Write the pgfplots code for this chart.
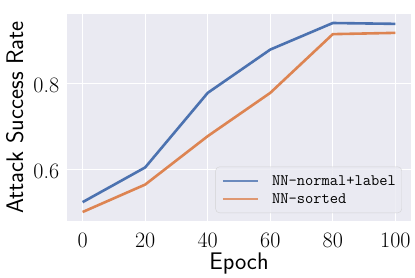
\documentclass[border=0pt]{standalone}
\usepackage{pgfplots}
\pgfplotsset{compat=1.18}
\definecolor{sbblue}{HTML}{4C72B0}
\definecolor{sborange}{HTML}{DD8452}
\definecolor{sbbg}{HTML}{EAEAF2}
\begin{document}
\begin{tikzpicture}
\path[use as bounding box] (-67pt,-56pt) rectangle (348pt,221pt);
\begin{axis}[
  scale only axis, width=344pt, height=207pt,
  xmin=-5, xmax=105, ymin=0.479, ymax=0.962,
  xtick={0,20,40,60,80,100}, ytick={0.6,0.8},
  axis background/.style={fill=sbbg},
  axis line style={draw=none},
  major tick length=0pt,
  grid=major, major grid style={white, line width=1.2pt},
  /pgf/number format/assume math mode=true,
  tick label style={font=\fontsize{22}{26}\selectfont},
  yticklabel style={/pgf/number format/fixed, /pgf/number format/precision=1, anchor=base east, xshift=-7.7pt, yshift=-9.5pt, inner sep=0pt},
  xticklabel style={anchor=base, yshift=-26pt, inner sep=0pt},
  xlabel={Epoch},
  ylabel={Attack Success Rate},
  xlabel style={font=\sffamily\fontsize{24}{29}\selectfont, at={(axis description cs:0.5,-0.2333)}, anchor=base},
  ylabel style={font=\sffamily\fontsize{24}{29}\selectfont, at={(axis description cs:-0.1279,0.5)}, anchor=base},
  legend image code/.code={\draw[#1] (0pt,0pt) -- (35pt,0pt); \path (48pt,0pt);},
  legend style={at={(axis description cs:0.9738,0.0386)}, anchor=south east,
    draw=black!20, fill=sbbg, fill opacity=0.8, draw opacity=0.8, text opacity=1,
    rounded corners=4pt, inner xsep=6pt, inner ysep=9pt, row sep=8pt,
    font=\ttfamily\fontsize{16}{19}\selectfont,
    cells={anchor=west}, nodes={inner sep=0pt, text height=10pt, text depth=0pt}},
]
\addplot[sbblue, line width=2.6pt, line join=round] coordinates {
  (0,0.523) (20,0.604) (40,0.778) (60,0.879) (80,0.941) (100,0.939)};
\addlegendentry{NN-normal+label}
\addplot[sborange, line width=2.6pt, line join=round] coordinates {
  (0,0.500) (20,0.564) (40,0.677) (60,0.778) (80,0.915) (100,0.918)};
\addlegendentry{NN-sorted}
\end{axis}
\end{tikzpicture}
\end{document}
